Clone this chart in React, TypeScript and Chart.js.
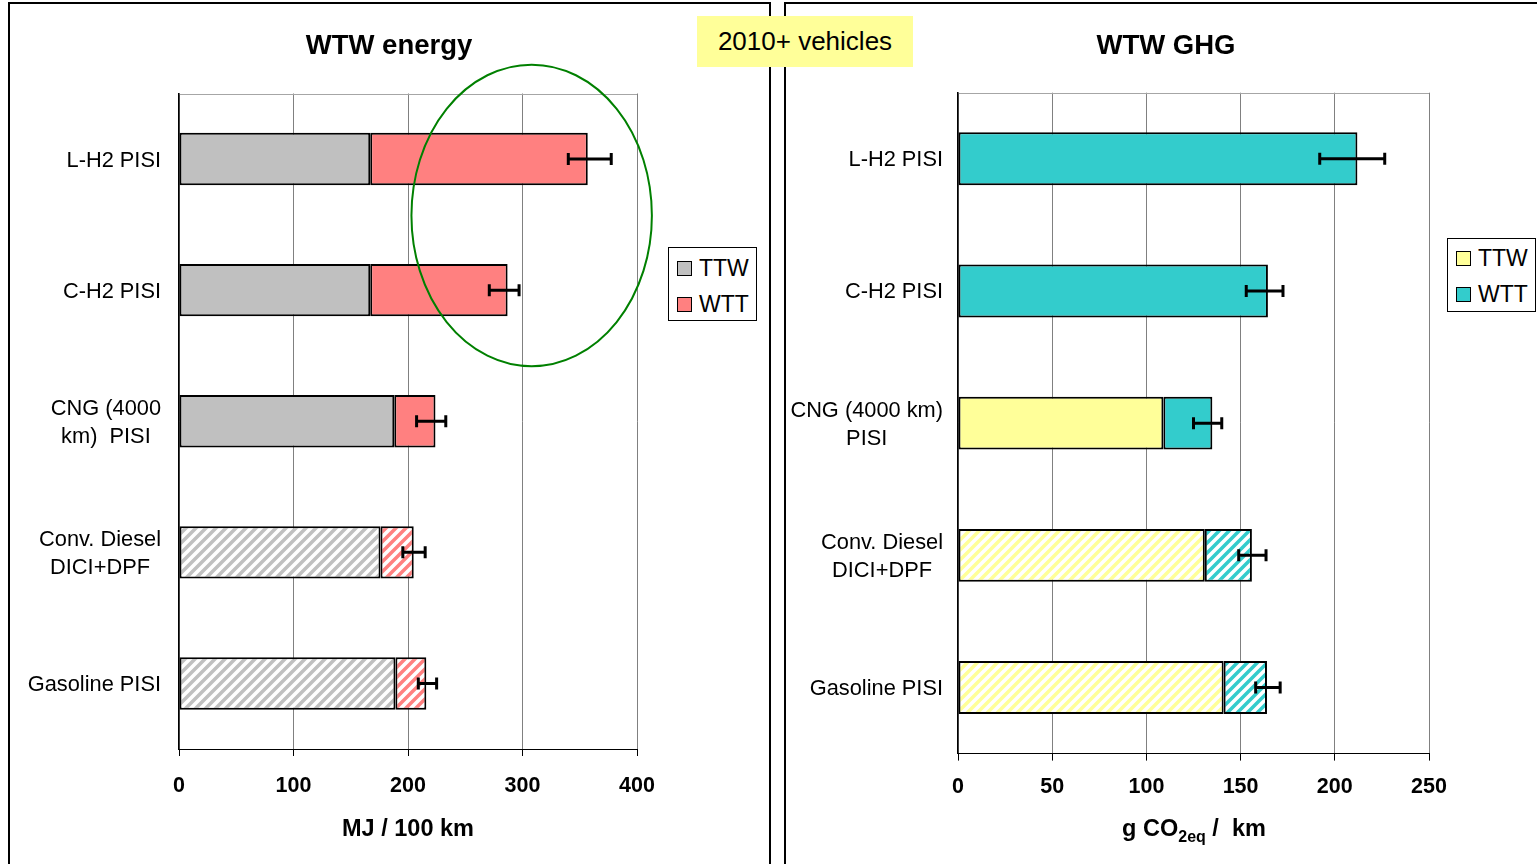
import React, { useEffect, useRef } from "react";
import { Chart, registerables } from "chart.js";

Chart.register(...registerables);

const FONT = "'Liberation Sans', Arial, Helvetica, sans-serif";

// ---------- data ----------
const energyCategories = [
  ["L-H2 PISI"],
  ["C-H2 PISI"],
  ["CNG (4000", "km)  PISI"],
  ["Conv. Diesel", "DICI+DPF"],
  ["Gasoline PISI"],
];
const ghgCategories = [
  ["L-H2 PISI"],
  ["C-H2 PISI"],
  ["CNG (4000 km)", "PISI"],
  ["Conv. Diesel", "DICI+DPF"],
  ["Gasoline PISI"],
];
const seriesNames = ["TTW", "WTT"];
const hatched = [false, false, false, true, true];

const energyTTW = [167, 167, 188, 176, 189];
const energyWTT = [190, 120, 36, 29, 27];
const energyErrLow = [340, 271, 207.5, 195.5, 209];
const energyErrHigh = [377.5, 297, 233, 215, 225];
const energyTicks = { min: 0, max: 400, step: 100 };

const ghgTTW = [null, null, 109, 131, 141];
const ghgWTT = [212, 164.5, 26, 25, 23];
const ghgErrLow = [192, 153, 125, 149, 158];
const ghgErrHigh = [226.5, 172.5, 140, 163.5, 171];
const ghgTicks = { min: 0, max: 250, step: 50 };

// highlighted region on the energy chart (data units: value, category index)
const energyHighlight = { x: 308, y: 0.43, rx: 105, ry: 1.15 };

const COLORS = {
  energyTTW: "#C0C0C0",
  energyWTT: "#FF8080",
  ghgTTW: "#FFFF99",
  ghgWTT: "#33CCCC",
};

// ---------- helpers ----------
function hatch(color: string): CanvasPattern | string {
  const c = document.createElement("canvas");
  c.width = 10;
  c.height = 10;
  const g = c.getContext("2d");
  if (!g) return color;
  g.fillStyle = "#ffffff";
  g.fillRect(0, 0, 10, 10);
  g.strokeStyle = color;
  g.lineWidth = 3.5;
  g.beginPath();
  g.moveTo(-5, 5);
  g.lineTo(5, -5);
  g.moveTo(0, 10);
  g.lineTo(10, 0);
  g.moveTo(5, 15);
  g.lineTo(15, 5);
  g.stroke();
  return g.createPattern(c, "repeat") || color;
}

function errorBarsPlugin(low: number[], high: number[]) {
  return {
    id: "errorBars",
    afterDatasetsDraw(chart: any) {
      const { ctx } = chart;
      const x = chart.scales.x;
      const y = chart.scales.y;
      ctx.save();
      ctx.strokeStyle = "#000";
      ctx.lineWidth = 3;
      low.forEach((lo, i) => {
        const py = y.getPixelForValue(i);
        const x1 = x.getPixelForValue(lo);
        const x2 = x.getPixelForValue(high[i]);
        ctx.beginPath();
        ctx.moveTo(x1, py);
        ctx.lineTo(x2, py);
        ctx.moveTo(x1, py - 6);
        ctx.lineTo(x1, py + 6);
        ctx.moveTo(x2, py - 6);
        ctx.lineTo(x2, py + 6);
        ctx.stroke();
      });
      ctx.restore();
    },
  };
}

function categoryLabelsPlugin(gap: number, minLeft: number) {
  return {
    id: "categoryLabels",
    afterDraw(chart: any) {
      const { ctx, chartArea } = chart;
      const y = chart.scales.y;
      ctx.save();
      ctx.font = `21.8px ${FONT}`;
      ctx.fillStyle = "#000";
      ctx.textAlign = "center";
      ctx.textBaseline = "middle";
      (chart.data.labels as string[][]).forEach((lines, i) => {
        const w = Math.max(...lines.map((l) => ctx.measureText(l).width));
        let cx = chartArea.left - gap - w / 2;
        if (cx - w / 2 < minLeft) cx = minLeft + w / 2;
        const py = y.getPixelForValue(i) + 1.5;
        const lh = 28;
        lines.forEach((l, k) => {
          ctx.fillText(l, cx, py + (k - (lines.length - 1) / 2) * lh);
        });
      });
      ctx.restore();
    },
  };
}

const frameTopPlugin = {
  id: "frameTop",
  beforeDatasetsDraw(chart: any) {
    const { ctx, chartArea } = chart;
    ctx.save();
    ctx.strokeStyle = "#A6A6A6";
    ctx.lineWidth = 1;
    ctx.beginPath();
    ctx.moveTo(chartArea.left, Math.round(chartArea.top) + 0.5);
    ctx.lineTo(chartArea.right, Math.round(chartArea.top) + 0.5);
    ctx.stroke();
    ctx.restore();
  },
};

function ellipsePlugin(h: { x: number; y: number; rx: number; ry: number }) {
  return {
    id: "highlightEllipse",
    afterDraw(chart: any) {
      const { ctx } = chart;
      const x = chart.scales.x;
      const y = chart.scales.y;
      const cx = x.getPixelForValue(h.x);
      const cy = y.getPixelForValue(h.y);
      const rx = x.getPixelForValue(h.x + h.rx) - cx;
      const ry = y.getPixelForValue(h.y + h.ry) - cy;
      ctx.save();
      ctx.strokeStyle = "#008000";
      ctx.lineWidth = 2;
      ctx.beginPath();
      ctx.ellipse(cx, cy, Math.abs(rx), Math.abs(ry), 0, 0, Math.PI * 2);
      ctx.stroke();
      ctx.restore();
    },
  };
}

function makeConfig(opts: {
  labels: string[][];
  ttw: (number | null)[];
  wtt: number[];
  colTTW: string;
  colWTT: string;
  ticks: { min: number; max: number; step: number };
  padding: { left: number; right: number; top: number; bottom: number };
  tickPadding: number;
  plugins: any[];
}): any {
  const bar = {
    borderColor: "#000",
    borderWidth: 2,
    borderSkipped: false,
    barPercentage: 0.4,
    categoryPercentage: 1,
  };
  return {
    type: "bar",
    data: {
      labels: opts.labels,
      datasets: [
        {
          label: seriesNames[0],
          data: opts.ttw,
          backgroundColor: opts.ttw.map((_, i) => (hatched[i] ? hatch(opts.colTTW) : opts.colTTW)),
          ...bar,
        },
        {
          label: seriesNames[1],
          data: opts.wtt,
          backgroundColor: opts.wtt.map((_, i) => (hatched[i] ? hatch(opts.colWTT) : opts.colWTT)),
          ...bar,
        },
      ],
    },
    options: {
      indexAxis: "y",
      responsive: false,
      animation: false,
      events: [],
      layout: { padding: opts.padding },
      plugins: {
        legend: { display: false },
        tooltip: { enabled: false },
        title: { display: false },
      },
      scales: {
        x: {
          type: "linear",
          stacked: true,
          min: opts.ticks.min,
          max: opts.ticks.max,
          afterFit: (s: any) => {
            s.height = 60;
          },
          ticks: {
            stepSize: opts.ticks.step,
            color: "#000",
            padding: opts.tickPadding,
            font: { family: FONT, size: 21.5, weight: "bold" },
          },
          grid: {
            color: "#808080",
            lineWidth: 1,
            drawTicks: true,
            tickLength: 7,
            tickColor: "#000",
          },
          border: { display: true, color: "#000", width: 1 },
        },
        y: {
          type: "category",
          stacked: true,
          afterFit: (s: any) => {
            s.width = 150;
          },
          ticks: { display: false },
          grid: { display: false },
          border: { display: true, color: "#000", width: 1.5, z: 1 },
        },
      },
    },
    plugins: [frameTopPlugin, ...opts.plugins],
  };
}

// ---------- component ----------
export default function App() {
  const leftRef = useRef<HTMLCanvasElement | null>(null);
  const rightRef = useRef<HTMLCanvasElement | null>(null);

  useEffect(() => {
    if (!leftRef.current || !rightRef.current) return;
    const left = new Chart(
      leftRef.current,
      makeConfig({
        labels: energyCategories,
        ttw: energyTTW,
        wtt: energyWTT,
        colTTW: COLORS.energyTTW,
        colWTT: COLORS.energyWTT,
        ticks: energyTicks,
        padding: { left: 19, right: 131, top: 89.5, bottom: 55 },
        tickPadding: 17.5,
        plugins: [
          errorBarsPlugin(energyErrLow, energyErrHigh),
          categoryLabelsPlugin(18, 0),
          ellipsePlugin(energyHighlight),
        ],
      })
    );
    const right = new Chart(
      rightRef.current,
      makeConfig({
        labels: ghgCategories,
        ttw: ghgTTW,
        wtt: ghgWTT,
        colTTW: COLORS.ghgTTW,
        colWTT: COLORS.ghgWTT,
        ticks: ghgTicks,
        padding: { left: 22, right: 108, top: 88.7, bottom: 50.4 },
        tickPadding: 13.5,
        plugins: [errorBarsPlugin(ghgErrLow, ghgErrHigh), categoryLabelsPlugin(15, 2)],
      })
    );
    return () => {
      left.destroy();
      right.destroy();
    };
  }, []);

  const abs = (s: React.CSSProperties): React.CSSProperties => ({ position: "absolute", ...s });
  const centered = (cx: number, cy: number, size: number, bold: boolean): React.CSSProperties =>
    abs({
      left: cx - 200,
      top: cy - size * 0.6,
      width: 400,
      height: size * 1.2,
      lineHeight: `${size * 1.2}px`,
      fontSize: size,
      fontWeight: bold ? "bold" : "normal",
      textAlign: "center",
      whiteSpace: "nowrap",
      color: "#000",
    });

  const legendItem = (x: number, yc: number, color: string, text: string) => (
    <React.Fragment key={text + x}>
      <div
        style={abs({
          left: x,
          top: yc - 7,
          width: 15,
          height: 15,
          boxSizing: "border-box",
          border: "1px solid #000",
          background: color,
        })}
      />
      <div
        style={abs({
          left: x + 22,
          top: yc - 14,
          height: 28,
          lineHeight: "28px",
          fontSize: 23,
          whiteSpace: "nowrap",
          color: "#000",
        })}
      >
        {text}
      </div>
    </React.Fragment>
  );

  return (
    <div
      style={abs({
        left: 0,
        top: 0,
        width: 1537,
        height: 864,
        overflow: "hidden",
        background: "#fff",
        fontFamily: FONT,
      })}
    >
      {/* panel frames */}
      <div style={abs({ left: 8, top: 2, width: 763, height: 900, border: "2px solid #000", boxSizing: "border-box" })} />
      <div style={abs({ left: 784, top: 2, width: 800, height: 900, border: "2px solid #000", boxSizing: "border-box" })} />

      <canvas ref={leftRef} width={758} height={860} style={abs({ left: 10, top: 4, width: 758, height: 860 })} />
      <canvas ref={rightRef} width={751} height={860} style={abs({ left: 786, top: 4, width: 751, height: 860 })} />

      {/* titles */}
      <div style={centered(389, 44, 27.5, true)}>WTW energy</div>
      <div style={centered(1166, 44, 27.5, true)}>WTW GHG</div>
      <div style={centered(408, 828, 23.5, true)}>MJ / 100 km</div>
      <div style={centered(1194, 828, 23.5, true)}>
        g CO<span style={{ fontSize: 16, position: "relative", top: 6 }}>2eq</span>&nbsp;/&nbsp; km
      </div>

      {/* header box */}
      <div
        style={abs({
          left: 697,
          top: 16,
          width: 216,
          height: 51,
          background: "#FFFF99",
          fontSize: 26,
          lineHeight: "51px",
          textAlign: "center",
          color: "#000",
          whiteSpace: "nowrap",
        })}
      >
        2010+ vehicles
      </div>

      {/* legends */}
      <div style={abs({ left: 668, top: 247, width: 89, height: 74, border: "1px solid #000", boxSizing: "border-box", background: "#fff" })} />
      {legendItem(677, 268, COLORS.energyTTW, seriesNames[0])}
      {legendItem(677, 304, COLORS.energyWTT, seriesNames[1])}

      <div style={abs({ left: 1447, top: 238, width: 89, height: 74, border: "1px solid #000", boxSizing: "border-box", background: "#fff" })} />
      {legendItem(1456, 258, COLORS.ghgTTW, seriesNames[0])}
      {legendItem(1456, 294, COLORS.ghgWTT, seriesNames[1])}
    </div>
  );
}
